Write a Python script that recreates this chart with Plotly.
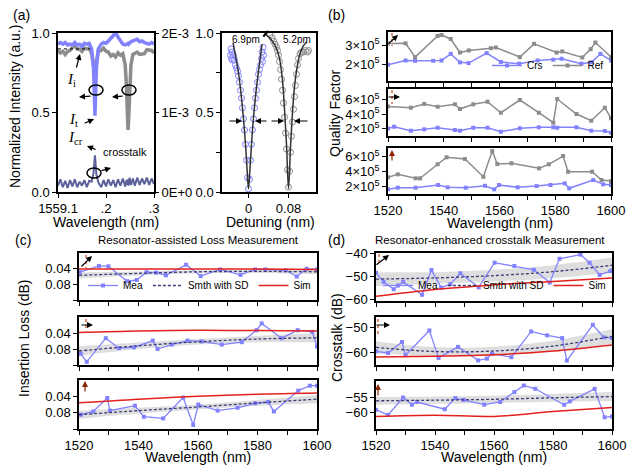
import plotly.graph_objects as go

W, H = 637, 469
OFF = 8  # the page body keeps its default 8px margin, so the figure is shifted by this much
FW, FH = W - OFF, H - OFF
FONT = 'Liberation Sans, Arial, sans-serif'
BLUE = '#8282ff'
GRAY = '#8c8c8c'
RED = '#e3211c'
NAVY = '#3c3c78'
BAND = 'rgba(200,200,200,0.6)'

# ---- (a) left: transmission spectra
spec_wl = [1559.100, 1559.105, 1559.110, 1559.115, 1559.120, 1559.125, 1559.130, 1559.135, 1559.140,
           1559.145, 1559.150, 1559.155, 1559.160, 1559.165, 1559.170, 1559.174, 1559.177, 1559.180,
           1559.184, 1559.190, 1559.195, 1559.200, 1559.205, 1559.210, 1559.215, 1559.220, 1559.225,
           1559.230, 1559.235, 1559.240, 1559.243, 1559.245, 1559.246, 1559.247, 1559.249, 1559.252,
           1559.256, 1559.260, 1559.265, 1559.270, 1559.275, 1559.280, 1559.285, 1559.290, 1559.295,
           1559.300]
spec_ref = [0.89, 0.875, 0.885, 0.865, 0.885, 0.89, 0.91, 0.92, 0.9, 0.9, 0.885, 0.905, 0.9, 0.905,
            0.87, 0.8, 0.74, 0.82, 0.885, 0.89, 0.905, 0.885, 0.88, 0.855, 0.865, 0.85, 0.875, 0.86,
            0.87, 0.8, 0.65, 0.45, 0.39, 0.45, 0.65, 0.8, 0.865, 0.87, 0.88, 0.865, 0.87, 0.87, 0.895,
            0.89, 0.89, 0.875]
spec_crs = [0.93, 0.94, 0.93, 0.94, 0.925, 0.93, 0.925, 0.94, 0.925, 0.93, 0.915, 0.935, 0.93, 0.935,
            0.9, 0.78, 0.48, 0.78, 0.9, 0.93, 0.94, 0.935, 0.95, 0.965, 0.985, 1.0, 0.975, 0.95, 0.93,
            0.925, 0.93, 0.935, 0.935, 0.93, 0.94, 0.945, 0.95, 0.955, 0.96, 0.945, 0.95, 0.94, 0.935,
            0.93, 0.94, 0.93]
spec_xtalk = [8e-5, 1.6e-4, 6e-5, 1.4e-4, 5e-5, 1.5e-4, 7e-5, 1.6e-4, 6e-5, 1.3e-4, 8e-5, 1.5e-4, 6e-5,
              1.4e-4, 1.3e-4, 2.4e-4, 4.6e-4, 2.2e-4, 1.2e-4, 6e-5, 1.5e-4, 7e-5, 1.6e-4, 8e-5, 1.5e-4,
              6e-5, 1.6e-4, 8e-5, 1.7e-4, 7e-5, 1.5e-4, 9e-5, 1.6e-4, 8e-5, 1.8e-4, 9e-5, 1.7e-4, 8e-5,
              1.8e-4, 9e-5, 1.7e-4, 1.0e-4, 1.8e-4, 9e-5, 1.7e-4, 1.0e-4]

# ---- (a) right: resonance dips (data and Lorentzian fits)
det_crs = [-0.036, -0.035, -0.034, -0.033, -0.032, -0.030, -0.028, -0.026, -0.024, -0.022, -0.020, -0.018,
           -0.016, -0.014, -0.012, -0.010, -0.008, -0.006, -0.004, -0.002, 0.000, 0.002, 0.004, 0.006,
           0.008, 0.010, 0.012, 0.014, 0.016, 0.018, 0.020, 0.022, 0.024, 0.026, 0.027, 0.028, 0.029, 0.030]
tr_crs = [0.86, 0.9, 0.84, 0.88, 0.83, 0.86, 0.83, 0.8, 0.78, 0.76, 0.73, 0.69, 0.64, 0.59, 0.53, 0.46,
          0.39, 0.3, 0.2, 0.09, 0.02, 0.08, 0.2, 0.3, 0.39, 0.46, 0.53, 0.59, 0.64, 0.69, 0.74, 0.77, 0.8,
          0.84, 0.88, 0.82, 0.91, 0.86]
fit_det_crs = [-0.031, -0.025, -0.020, -0.015, -0.010, -0.006, -0.003, 0.000, 0.003, 0.006, 0.010, 0.015,
               0.020, 0.025, 0.027]
fit_tr_crs = [0.94, 0.84, 0.75, 0.62, 0.46, 0.3, 0.15, 0.02, 0.15, 0.3, 0.47, 0.63, 0.76, 0.88, 0.93]
det_ref = [0.043, 0.047, 0.050, 0.053, 0.056, 0.058, 0.060, 0.062, 0.064, 0.066, 0.068, 0.070, 0.072,
           0.074, 0.076, 0.078, 0.080, 0.082, 0.084, 0.086, 0.088, 0.090, 0.092, 0.094, 0.096, 0.098,
           0.100, 0.103, 0.106, 0.110, 0.114, 0.118, 0.120]
tr_ref = [0.99, 0.97, 0.95, 0.93, 0.91, 0.89, 0.86, 0.82, 0.77, 0.71, 0.64, 0.56, 0.47, 0.37, 0.27,
          0.14, 0.03, 0.13, 0.25, 0.35, 0.44, 0.52, 0.6, 0.67, 0.74, 0.8, 0.84, 0.87, 0.88, 0.88, 0.89,
          0.88, 0.89]
fit_det_ref = [0.035, 0.045, 0.055, 0.062, 0.068, 0.072, 0.076, 0.080, 0.084, 0.088, 0.092, 0.097,
               0.103, 0.110, 0.117]
fit_tr_ref = [0.99, 0.96, 0.91, 0.84, 0.7, 0.52, 0.3, 0.02, 0.28, 0.5, 0.66, 0.78, 0.87, 0.92, 0.945]

# ---- (b) quality factors, three polarisation states
q1_wl = [1520, 1526.3, 1529.7, 1536.2, 1539.2, 1542.5, 1545.8, 1548.9, 1555.4, 1560.5, 1567.0,
         1573.7, 1579.3, 1582.3, 1589.4, 1593.0, 1596.2, 1600]
q1_crs = [1.96e5, 2.19e5, 2.17e5, 2.17e5, 2.19e5, 2.54e5, 2.09e5, 2.05e5, 2.58e5, 2.11e5, 2.02e5,
          2.19e5, 2.23e5, 2.28e5, 2.02e5, 2.09e5, 2.54e5, 2.19e5]
q1_ref_wl = [1520, 1526.3, 1529.7, 1537.8, 1539.2, 1542.5, 1545.8, 1549.0, 1556.9, 1558.7, 1567.3,
             1572.4, 1580.5, 1582.5, 1589.7, 1592.7, 1594.4, 1600]
q1_ref = [3.09e5, 3.1e5, 2.37e5, 3.49e5, 3.54e5, 3.33e5, 2.61e5, 2.72e5, 2.84e5, 2.88e5, 2.37e5,
          3.07e5, 2.61e5, 2.67e5, 2.35e5, 2.79e5, 3.14e5, 2.37e5]
q2_wl = [1520, 1522.2, 1528.2, 1533.0, 1537.8, 1544.0, 1545.8, 1550.6, 1555.7, 1560.5, 1567.3, 1574.1,
         1579.3, 1580.7, 1587.6, 1592.9, 1597.8, 1600]
q2_crs = [2.0e5, 2.25e5, 1.7e5, 1.89e5, 2.11e5, 1.8e5, 1.7e5, 2.11e5, 2.11e5, 1.56e5, 2.03e5, 2.17e5,
          2.17e5, 2.11e5, 2.17e5, 1.7e5, 1.66e5, 1.42e5]
q2_ref_wl = [1520, 1528.2, 1533.0, 1537.8, 1544.0, 1545.8, 1550.6, 1555.7, 1560.5, 1567.3, 1574.1,
             1579.3, 1580.7, 1587.6, 1592.9, 1597.8, 1600]
q2_ref = [5.05e5, 4.87e5, 5.38e5, 5.0e5, 5.34e5, 4.69e5, 5.34e5, 5.7e5, 4.18e5, 5.93e5, 4.18e5, 2.8e5,
          6.07e5, 4.0e5, 3.08e5, 4.87e5, 3.4e5]
q3_wl = [1520, 1523.5, 1529.9, 1538.0, 1541.4, 1547.9, 1554.8, 1558.1, 1559.8, 1566.5, 1573.3, 1578.3,
         1583.4, 1585.0, 1593.6, 1597.2, 1600]
q3_crs = [1.65e5, 1.87e5, 1.87e5, 2.23e5, 1.92e5, 1.87e5, 2.13e5, 1.65e5, 2.23e5, 1.92e5, 2.09e5, 2.23e5,
          2.45e5, 1.79e5, 2.89e5, 2.32e5, 2.23e5]
q3_ref_wl = [1520, 1523.5, 1529.9, 1531.5, 1537.8, 1541.0, 1547.6, 1554.2, 1557.4, 1559.2, 1564.3,
             1574.2, 1577.7, 1582.8, 1584.6, 1593.2, 1596.6, 1600]
q3_ref = [3.25e5, 3.65e5, 3.12e5, 3.12e5, 4.99e5, 5.92e5, 5.69e5, 3.33e5, 6.76e5, 5.03e5, 5.12e5, 4.45e5,
          4.99e5, 6.09e5, 4.0e5, 4.0e5, 2.89e5, 2.76e5]

# ---- (c) insertion loss (dB)
il1_wl = [1520.3, 1526.7, 1529.9, 1536.2, 1539.4, 1542.7, 1545.9, 1549.2, 1556.0, 1560.9, 1567.4, 1574.3,
          1579.2, 1582.7, 1589.5, 1593.2, 1596.5, 1600]
il1 = [0.049, 0.033, 0.034, 0.072, 0.069, 0.049, 0.05, 0.057, 0.03, 0.059, 0.042, 0.056, 0.042, 0.042,
       0.044, 0.06, 0.04, 0.042]
il2_wl = [1520.6, 1522.6, 1529.0, 1533.4, 1538.5, 1544.8, 1546.4, 1551.2, 1556.5, 1561.2, 1568.0, 1574.7,
          1579.7, 1581.4, 1588.1, 1593.5, 1598.4, 1600]
il2 = [0.092, 0.112, 0.053, 0.078, 0.076, 0.059, 0.08, 0.069, 0.059, 0.061, 0.069, 0.063, 0.033, 0.016,
       0.053, 0.033, 0.037, 0.074]
il3_wl = [1520.6, 1524.8, 1529.5, 1530.4, 1538.8, 1541.8, 1548.3, 1555.0, 1558.4, 1560.1, 1566.6, 1573.3,
          1579.2, 1583.6, 1585.5, 1593.7, 1597.6, 1600]
il3 = [0.085, 0.077, 0.044, 0.075, 0.063, 0.09, 0.094, 0.043, 0.11, 0.06, 0.075, 0.068, 0.057, 0.054,
       0.077, 0.026, 0.014, 0.014]
smooth_wl = [1520, 1540, 1560, 1580, 1600]
il_smooth = [[0.057, 0.052, 0.048, 0.047, 0.048], [0.085, 0.072, 0.062, 0.055, 0.052],
             [0.085, 0.075, 0.066, 0.056, 0.047]]
il_sd = [[0.008, 0.005, 0.004, 0.004, 0.006], [0.012, 0.008, 0.007, 0.008, 0.012],
         [0.01, 0.007, 0.006, 0.007, 0.01]]
il_sim = [[0.041, 0.041, 0.041, 0.041, 0.042], [0.039, 0.035, 0.033, 0.034, 0.035],
          [0.056, 0.047, 0.04, 0.035, 0.032]]

# ---- (d) crosstalk (dB)
ct1_wl = [1520, 1522.6, 1526.0, 1529.2, 1535.6, 1538.8, 1542.1, 1545.2, 1548.6, 1554.8, 1560.2, 1566.9,
          1573.5, 1578.9, 1582.2, 1589.3, 1592.4, 1595.8, 1599.4, 1600]
ct1 = [-48.3, -52.2, -55.4, -52.2, -57.8, -47.1, -54.7, -53.2, -48.5, -54.6, -43.9, -45.3, -47.0, -52.5,
       -42.2, -40.4, -43.9, -49.2, -47.6, -47.3]
ct2_wl = [1520, 1524.1, 1528.8, 1530.0, 1538.1, 1541.2, 1547.8, 1554.6, 1557.6, 1559.3, 1565.9, 1572.6,
          1578.0, 1583.1, 1584.7, 1593.5, 1597.2, 1600]
ct2 = [-59.6, -60.3, -55.8, -61.2, -51.1, -62.3, -57.8, -63.3, -62.6, -60.6, -62.0, -51.5, -53.1, -54.2,
       -63.4, -48.8, -53.9, -54.2]
ct3_wl = [1520, 1524.1, 1529.2, 1532.2, 1533.9, 1543.3, 1546.9, 1549.7, 1556.7, 1562.1, 1566.9, 1570.1,
          1574.0, 1583.8, 1585.7, 1594.1, 1597.5, 1600]
ct3 = [-59.0, -60.7, -54.9, -57.3, -56.4, -58.8, -55.1, -55.7, -57.3, -56.4, -53.1, -50.9, -52.0, -57.3,
       -56.2, -52.0, -61.5, -61.2]
ct_smooth = [[-51.0, -50.5, -49.5, -47.8, -45.0], [-58.0, -59.7, -59.5, -57.5, -53.5],
             [-56.0, -55.8, -55.5, -55.0, -54.6]]
ct_sd = [[3.0, 2.5, 2.5, 2.8, 3.3], [2.5, 1.8, 1.8, 2.2, 3.0], [1.3, 1.2, 1.2, 1.3, 1.5]]
ct_sim = [[-58.5, -55.5, -53.5, -52.0, -50.5], [-61.9, -61.6, -61.0, -59.5, -57.0],
          [-61.2, -60.8, -61.2, -59.6, -58.2]]


# window pixels -> paper fractions
def px(x):
    return (x - OFF) / FW


def py(y):
    return 1 - (y - OFF) / FH


def dom_x(l, r):
    return [px(l), px(r)]


def dom_y(t, b):
    return [py(b), py(t)]


def minor(vals):
    return dict(tickvals=vals, ticks='outside', ticklen=4, tickwidth=1.2, tickcolor='black',
                showgrid=False)


def ax_style(**kw):
    d = dict(showline=True, linecolor='black', linewidth=1.5, mirror=True, ticks='outside', ticklen=4,
             tickwidth=1.2, tickcolor='black', showgrid=False, zeroline=False, automargin=False,
             tickfont=dict(family=FONT, size=13, color='black'))
    d.update(kw)
    return d


fig = go.Figure()

# (a) left
fig.add_trace(go.Scatter(x=spec_wl, y=spec_ref, mode='lines', line=dict(color=GRAY, width=3.5),
                         showlegend=False, xaxis='x', yaxis='y'))
fig.add_trace(go.Scatter(x=spec_wl, y=spec_crs, mode='lines', line=dict(color=BLUE, width=3.5),
                         showlegend=False, xaxis='x', yaxis='y'))
fig.add_trace(go.Scatter(x=spec_wl, y=spec_xtalk, mode='lines', line=dict(color='#5d6199', width=2),
                         showlegend=False, xaxis='x', yaxis='y12'))

# (a) right
fig.add_trace(go.Scatter(x=det_crs, y=tr_crs, mode='markers', showlegend=False, xaxis='x2', yaxis='y2',
                         marker=dict(symbol='circle-open', size=6, color=BLUE, line=dict(width=1))))
fig.add_trace(go.Scatter(x=det_ref, y=tr_ref, mode='markers', showlegend=False, xaxis='x2', yaxis='y2',
                         marker=dict(symbol='circle-open', size=6, color=GRAY, line=dict(width=1))))
fig.add_trace(go.Scatter(x=fit_det_crs, y=fit_tr_crs, mode='lines', line=dict(color='#333333', width=1.5,
                         shape='spline'), showlegend=False, xaxis='x2', yaxis='y2'))
fig.add_trace(go.Scatter(x=fit_det_ref, y=fit_tr_ref, mode='lines', line=dict(color='#333333', width=1.5,
                         shape='spline'), showlegend=False, xaxis='x2', yaxis='y2'))

# (b)
b_sets = [(q1_wl, q1_crs, q1_ref_wl, q1_ref), (q2_wl, q2_crs, q2_ref_wl, q2_ref),
          (q3_wl, q3_crs, q3_ref_wl, q3_ref)]
for i, (wc, qc, wr, qr) in enumerate(b_sets):
    n = 3 + i
    fig.add_trace(go.Scatter(x=wc, y=qc, mode='lines+markers', name='Crs', legend='legend',
                             line=dict(color=BLUE, width=1.5), marker=dict(symbol='square', size=4),
                             showlegend=(i == 0), xaxis=f'x{n}', yaxis=f'y{n}'))
    fig.add_trace(go.Scatter(x=wr, y=qr, mode='lines+markers', name='Ref', legend='legend',
                             line=dict(color=GRAY, width=1.5), marker=dict(symbol='square', size=4),
                             showlegend=(i == 0), xaxis=f'x{n}', yaxis=f'y{n}'))


def loss_panel(n, wl, val, sm, sd, sim, leg, first):
    up = [m + s for m, s in zip(sm, sd)]
    lo = [m - s for m, s in zip(sm, sd)]
    fig.add_trace(go.Scatter(x=smooth_wl, y=up, mode='lines', line=dict(width=0, shape='spline'),
                             showlegend=False, hoverinfo='skip', xaxis=f'x{n}', yaxis=f'y{n}'))
    fig.add_trace(go.Scatter(x=smooth_wl, y=lo, mode='lines', line=dict(width=0, shape='spline'),
                             fill='tonexty', fillcolor=BAND, showlegend=False, hoverinfo='skip',
                             xaxis=f'x{n}', yaxis=f'y{n}'))
    fig.add_trace(go.Scatter(x=wl, y=val, mode='lines+markers', name='Mea', legend=leg,
                             line=dict(color=BLUE, width=1.3), marker=dict(symbol='square', size=4),
                             showlegend=first, xaxis=f'x{n}', yaxis=f'y{n}'))
    fig.add_trace(go.Scatter(x=smooth_wl, y=sm, mode='lines', name='Smth with SD', legend=leg,
                             line=dict(color=NAVY, width=1.3, dash='3px,2px', shape='spline'),
                             showlegend=first, xaxis=f'x{n}', yaxis=f'y{n}'))
    fig.add_trace(go.Scatter(x=smooth_wl, y=sim, mode='lines', name='Sim', legend=leg,
                             line=dict(color=RED, width=1.5, shape='spline'),
                             showlegend=first, xaxis=f'x{n}', yaxis=f'y{n}'))


il_wls = [il1_wl, il2_wl, il3_wl]
il_vals = [il1, il2, il3]
for i in range(3):
    loss_panel(6 + i, il_wls[i], il_vals[i], il_smooth[i], il_sd[i], il_sim[i], 'legend2', i == 0)
ct_wls = [ct1_wl, ct2_wl, ct3_wl]
ct_vals = [ct1, ct2, ct3]
for i in range(3):
    loss_panel(9 + i, ct_wls[i], ct_vals[i], ct_smooth[i], ct_sd[i], ct_sim[i], 'legend3', i == 0)

# ---- axes
wl_major = [1520, 1540, 1560, 1580, 1600]
wl_minor = [1530, 1550, 1570, 1590]
lay = {}
lay['xaxis'] = ax_style(domain=dom_x(58, 154), range=[1559.1, 1559.3], anchor='y',
                        tickvals=[1559.1, 1559.2, 1559.3], ticktext=['1559.1', '.2', '.3'])
lay['yaxis'] = ax_style(domain=dom_y(33, 192), range=[0, 1.0], anchor='x',
                        tickvals=[0, 0.5, 1.0], ticktext=['0.0', '0.5', '1.0'])
lay['yaxis12'] = dict(overlaying='y', side='right', anchor='x', range=[0, 2e-3], showgrid=False,
                      zeroline=False, ticks='outside', ticklen=4, tickcolor='black', showline=False,
                      automargin=False, tickvals=[0, 1e-3, 2e-3], ticktext=['0E+0', '1E-3', '2E-3'],
                      tickfont=dict(family=FONT, size=13, color='black'))
lay['xaxis2'] = ax_style(domain=dom_x(222, 316), range=[-0.053, 0.135], anchor='y2',
                         tickvals=[0, 0.08], ticktext=['0', '0.08'])
lay['yaxis2'] = ax_style(domain=dom_y(33, 192), range=[0, 1.0], anchor='x2',
                         tickvals=[0, 0.5, 1.0], ticktext=['0.0', '0.5', '1.0'], minor=minor([0.25, 0.75]))

b_dom = [(32, 81), (89, 136), (148, 194)]
b_rng = [[1.1e5, 3.7e5], [0.97e5, 7.45e5], [1.03e5, 7.16e5]]
b_tv = [[2e5, 3e5], [2e5, 4e5, 6e5], [2e5, 4e5, 6e5]]
for i in range(3):
    n = 3 + i
    lay[f'xaxis{n}'] = ax_style(domain=dom_x(388, 611), range=[1520, 1600], anchor=f'y{n}',
                                tickvals=wl_major, minor=minor(wl_minor), showticklabels=(i == 2))
    lay[f'yaxis{n}'] = ax_style(domain=dom_y(*b_dom[i]), range=b_rng[i], anchor=f'x{n}',
                                tickvals=b_tv[i],
                                ticktext=[f'{int(v / 1e5)}×10<sup>5</sup>' for v in b_tv[i]])

c_dom = [(253, 300), (317, 365), (380, 429)]
for i in range(3):
    n = 6 + i
    lay[f'xaxis{n}'] = ax_style(domain=dom_x(79, 317), range=[1520, 1600], anchor=f'y{n}',
                                tickvals=wl_major, minor=minor(wl_minor), showticklabels=(i == 2))
    lay[f'yaxis{n}'] = ax_style(domain=dom_y(*c_dom[i]), range=[0.12, 0.0], anchor=f'x{n}',
                                tickvals=[0.04, 0.08], ticktext=['0.04', '0.08'], minor=minor([0.12]))

d_dom = [(253, 301), (317, 365), (381, 429)]
d_rng = [[-60.5, -39.7], [-65.2, -45.6], [-65.4, -49.4]]
d_tv = [[-60, -50, -40], [-60, -50], [-60, -55]]
for i in range(3):
    n = 9 + i
    lay[f'xaxis{n}'] = ax_style(domain=dom_x(376, 612), range=[1520, 1600], anchor=f'y{n}',
                                tickvals=wl_major, minor=minor(wl_minor), showticklabels=(i == 2))
    lay[f'yaxis{n}'] = ax_style(domain=dom_y(*d_dom[i]), range=d_rng[i], anchor=f'x{n}',
                                tickvals=d_tv[i])

leg_common = dict(orientation='h', xanchor='right', yanchor='bottom', bgcolor='rgba(0,0,0,0)',
                  font=dict(family=FONT, size=10, color='black'), itemwidth=30, tracegroupgap=0,
                  traceorder='normal')
fig.update_layout(
    width=FW, height=FH, margin=dict(l=0, r=0, t=0, b=0, pad=0, autoexpand=False),
    plot_bgcolor='white', paper_bgcolor='white', template='none',
    font=dict(family=FONT, color='black'),
    legend=dict(x=px(609), y=py(80), **leg_common),
    legend2=dict(x=px(316), y=py(300), **leg_common),
    legend3=dict(x=px(611), y=py(300), **leg_common),
    **lay)

# ---- text
ann = []


def text(x, y, s, size=14, angle=0, family=FONT):
    ann.append(dict(x=px(x), y=py(y), xref='paper', yref='paper', text=s, showarrow=False,
                    xanchor='center', yanchor='middle', textangle=angle,
                    font=dict(family=family, size=size, color='black')))


def arrow(x0, y0, x1, y1, color='black', width=1.2, head=2):
    ann.append(dict(x=px(x1), y=py(y1), xref='paper', yref='paper', ax=x0 - x1, ay=y0 - y1,
                    axref='pixel', ayref='pixel', text='', showarrow=True, arrowhead=head, arrowsize=1,
                    arrowwidth=width, arrowcolor=color))


text(22, 15, '(a)')
text(336, 15, '(b)')
text(23, 240, '(c)')
text(336, 240, '(d)')
text(15, 107, 'Normalized Intensity (a.u.)', angle=-90)
text(335, 114, 'Quality Factor', angle=-90)
text(24, 338, 'Insertion Loss (dB)', angle=-90)
text(337, 338, 'Crosstalk (dB)', angle=-90)
text(106, 222, 'Wavelength (nm)')
text(270, 222, 'Detuning (nm)')
text(500, 223, 'Wavelength (nm)')
text(198, 457, 'Wavelength (nm)')
text(494, 457, 'Wavelength (nm)')
text(198, 240, 'Resonator-assisted Loss Measurement', size=11.5)
text(490, 240, 'Resonator-enhanced crosstalk Measurement', size=11.5)
text(246, 40, '6.9pm', size=10)
text(297, 40, '5.2pm', size=10)
text(125, 152, 'crosstalk', size=11)
serif = 'Liberation Serif, DejaVu Serif, serif'
text(71, 80, '<i>I</i><sub>i</sub>', size=15, family=serif)
text(73, 120, '<i>I</i><sub>t</sub>', size=15, family=serif)
text(75, 138, '<i>I</i><sub>cr</sub>', size=15, family=serif)

# arrows in (a)
arrow(76, 69, 80, 54)
arrow(83, 124, 94, 119)
arrow(97, 150, 87, 146)
arrow(92, 96, 79, 97)
arrow(124, 96, 112, 97)
arrow(100, 171, 111, 168)
arrow(228, 121, 242, 121)
arrow(268, 121, 255, 121)
arrow(270, 121, 284, 121)
arrow(309, 121, 294, 121)
arrow(262, 38, 268, 31, width=2, head=0)

shapes = []
for cx, cy in [(96, 90), (129, 90), (94, 173)]:
    shapes.append(dict(type='circle', xref='paper', yref='paper', x0=px(cx - 7), x1=px(cx + 7),
                       y0=py(cy + 5), y1=py(cy - 5), line=dict(color='black', width=1.5)))
shapes.append(dict(type='line', xref='x', yref='y', x0=1559.1, x1=1559.167, y0=0.9, y1=0.9,
                   line=dict(color='black', width=1, dash='dot')))

# polarisation icons
ORANGE = '#d2552a'
BROWN = '#8b2500'
for (lx, t, b), ah in [((392, 33, 46), (387, 45, 398, 35)),
                       ((392, 90, 104), (387, 97, 400, 97)),
                       ((86, 255, 268), (80, 268, 92, 256)),
                       ((86, 319, 333), (80, 325, 93, 325)),
                       ((379, 254, 266), (375, 266, 389, 255)),
                       ((378, 319, 334), (375, 325, 390, 325))]:
    shapes.append(dict(type='line', xref='paper', yref='paper', x0=px(lx), x1=px(lx), y0=py(t), y1=py(b),
                       line=dict(color=ORANGE, width=1.3, dash='dot')))
    arrow(*ah)
for x, y0, y1 in [(392, 162, 150), (85, 393, 381), (378, 397, 384)]:
    arrow(x, y0, x, y1, color=BROWN)

fig.update_layout(annotations=ann, shapes=shapes)
fig.write_html('out.html')
